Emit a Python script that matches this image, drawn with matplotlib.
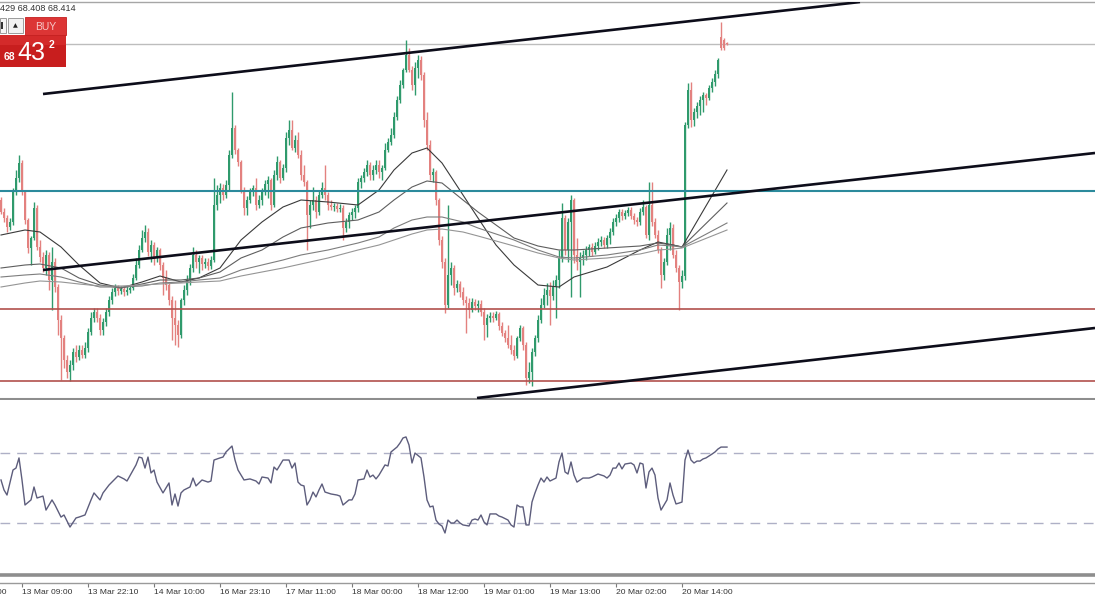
import matplotlib
matplotlib.use('Agg')
import matplotlib.pyplot as plt
from matplotlib.patches import Rectangle
import numpy as np

# ---------------- data ----------------
opens = [66.86, 66.74, 66.68, 66.59, 66.64, 66.94, 67.08, 67.23, 66.94, 66.66,
         66.38, 66.48, 66.78, 66.39, 66.29, 66.18, 66.31, 66.06, 66.24, 65.99,
         65.66, 65.48, 65.26, 65.14, 65.21, 65.34, 65.29, 65.36, 65.31, 65.38,
         65.54, 65.68, 65.74, 65.68, 65.56, 65.64, 65.74, 65.86, 65.94, 65.98,
         65.95, 65.97, 65.94, 65.96, 65.98, 66.08, 66.21, 66.36, 66.48, 66.54,
         66.34, 66.41, 66.28, 66.36, 66.21, 66.08, 66.01, 65.86, 65.68, 65.61,
         65.51, 65.86, 65.96, 66.06, 66.18, 66.31, 66.24, 66.28, 66.22, 66.24,
         66.20, 66.26, 66.81, 66.91, 66.98, 66.91, 67.01, 67.31, 67.58, 67.36,
         67.24, 66.96, 66.78, 66.86, 66.95, 66.98, 66.81, 66.86, 66.94, 67.02,
         67.06, 66.81, 67.11, 67.24, 67.08, 67.18, 67.48, 67.56, 67.38, 67.46,
         67.31, 67.11, 67.04, 66.71, 66.81, 66.86, 66.74, 66.91, 66.98, 66.91,
         66.81, 66.79, 66.80, 66.77, 66.78, 66.58, 66.64, 66.71, 66.74, 66.78,
         67.04, 67.08, 67.14, 67.21, 67.11, 67.16, 67.21, 67.14, 67.18, 67.36,
         67.44, 67.51, 67.69, 67.86, 68.01, 68.16, 68.31, 68.16, 68.01, 68.18,
         68.26, 68.11, 67.66, 67.41, 67.11, 67.14, 66.86, 66.46, 66.24, 65.81,
         66.11, 66.18, 65.98, 66.02, 65.94, 65.86, 65.83, 65.76, 65.84, 65.80,
         65.82, 65.74, 65.61, 65.68, 65.70, 65.68, 65.72, 65.60, 65.53, 65.48,
         65.41, 65.36, 65.30, 65.48, 65.58, 65.41, 65.08, 65.14, 65.34, 65.48,
         65.66, 65.81, 65.91, 65.96, 65.90, 65.99, 66.06, 66.28, 66.68, 66.36,
         66.64, 66.86, 66.31, 66.24, 66.28, 66.31, 66.36, 66.39, 66.34, 66.40,
         66.44, 66.46, 66.41, 66.48, 66.54, 66.64, 66.68, 66.74, 66.70, 66.73,
         66.76, 66.70, 66.66, 66.64, 66.74, 66.79, 66.51, 66.81, 66.64, 66.51,
         66.36, 66.11, 66.24, 66.51, 66.58, 66.31, 66.18, 66.04, 66.10, 67.61,
         67.96, 67.66, 67.74, 67.80, 67.86, 67.91, 67.88, 67.98, 68.04, 68.12,
         68.49, 68.46, 68.43]

closes = [66.74, 66.68, 66.59, 66.64, 66.94, 67.08, 67.23, 66.94, 66.66, 66.38,
          66.48, 66.78, 66.39, 66.29, 66.18, 66.31, 66.06, 66.24, 65.99, 65.66,
          65.48, 65.26, 65.14, 65.21, 65.34, 65.29, 65.36, 65.31, 65.38, 65.54,
          65.68, 65.74, 65.68, 65.56, 65.64, 65.74, 65.86, 65.94, 65.98, 65.95,
          65.97, 65.94, 65.96, 65.98, 66.08, 66.21, 66.36, 66.48, 66.54, 66.34,
          66.41, 66.28, 66.36, 66.21, 66.08, 66.01, 65.86, 65.68, 65.61, 65.51,
          65.86, 65.96, 66.06, 66.18, 66.31, 66.24, 66.28, 66.22, 66.24, 66.20,
          66.26, 66.81, 66.91, 66.98, 66.91, 67.01, 67.31, 67.58, 67.36, 67.24,
          66.96, 66.78, 66.86, 66.95, 66.98, 66.81, 66.86, 66.94, 67.02, 67.06,
          66.81, 67.11, 67.24, 67.08, 67.18, 67.48, 67.56, 67.38, 67.46, 67.31,
          67.11, 67.04, 66.71, 66.81, 66.86, 66.74, 66.91, 66.98, 66.91, 66.81,
          66.79, 66.80, 66.77, 66.78, 66.58, 66.64, 66.71, 66.74, 66.78, 67.04,
          67.08, 67.14, 67.21, 67.11, 67.16, 67.21, 67.14, 67.18, 67.36, 67.44,
          67.51, 67.69, 67.86, 68.01, 68.16, 68.31, 68.16, 68.01, 68.18, 68.26,
          68.11, 67.66, 67.41, 67.11, 67.14, 66.86, 66.46, 66.24, 65.81, 66.11,
          66.18, 65.98, 66.02, 65.94, 65.86, 65.83, 65.76, 65.84, 65.80, 65.82,
          65.74, 65.61, 65.68, 65.70, 65.68, 65.72, 65.60, 65.53, 65.48, 65.41,
          65.36, 65.30, 65.48, 65.58, 65.41, 65.08, 65.14, 65.34, 65.48, 65.66,
          65.81, 65.91, 65.96, 65.90, 65.99, 66.06, 66.28, 66.68, 66.36, 66.64,
          66.86, 66.31, 66.24, 66.28, 66.31, 66.36, 66.39, 66.34, 66.40, 66.44,
          66.46, 66.41, 66.48, 66.54, 66.64, 66.68, 66.74, 66.70, 66.73, 66.76,
          66.70, 66.66, 66.64, 66.74, 66.79, 66.51, 66.81, 66.64, 66.51, 66.36,
          66.11, 66.24, 66.51, 66.58, 66.31, 66.18, 66.04, 66.10, 67.61, 67.96,
          67.66, 67.74, 67.80, 67.86, 67.91, 67.88, 67.98, 68.04, 68.12, 68.26,
          68.38, 68.38, 68.42]

highs = [66.89, 66.78, 66.71, 66.68, 66.98, 67.16, 67.31, 67.26, 66.96, 66.68,
         66.50, 66.84, 66.81, 66.46, 66.34, 66.36, 66.34, 66.39, 66.28, 66.02,
         65.71, 65.51, 65.31, 65.26, 65.38, 65.41, 65.41, 65.41, 65.44, 65.58,
         65.74, 65.78, 65.78, 65.72, 65.68, 65.78, 65.90, 65.98, 66.02, 66.01,
         66.00, 65.99, 66.00, 66.01, 66.12, 66.28, 66.41, 66.56, 66.61, 66.58,
         66.46, 66.44, 66.39, 66.38, 66.24, 66.16, 66.04, 65.90, 65.86, 65.66,
         65.88, 66.01, 66.11, 66.22, 66.39, 66.36, 66.31, 66.31, 66.28, 66.28,
         66.30, 67.08, 67.01, 67.03, 67.02, 67.06, 67.36, 67.94, 67.61, 67.38,
         67.26, 66.99, 66.90, 66.98, 67.01, 67.08, 66.91, 66.98, 67.06, 67.10,
         67.08, 67.16, 67.30, 67.26, 67.22, 67.54, 67.66, 67.66, 67.51, 67.54,
         67.36, 67.21, 67.06, 66.86, 66.99, 66.90, 66.96, 67.04, 67.21, 66.94,
         66.86, 66.83, 66.83, 66.82, 66.81, 66.68, 66.74, 66.78, 66.81, 67.08,
         67.11, 67.18, 67.26, 67.24, 67.21, 67.26, 67.26, 67.21, 67.43, 67.48,
         67.58, 67.74, 67.90, 68.06, 68.18, 68.46, 68.38, 68.20, 68.24, 68.31,
         68.30, 68.14, 67.74, 67.46, 67.18, 67.16, 66.88, 66.50, 66.28, 66.81,
         66.24, 66.21, 66.06, 66.05, 65.99, 65.90, 65.88, 65.88, 65.87, 65.86,
         65.86, 65.78, 65.72, 65.74, 65.74, 65.75, 65.74, 65.64, 65.56, 65.61,
         65.51, 65.41, 65.50, 65.61, 65.60, 65.44, 65.24, 65.38, 65.51, 65.71,
         65.88, 65.98, 66.03, 66.04, 66.06, 66.11, 66.36, 66.83, 66.71, 66.68,
         66.91, 66.88, 66.48, 66.34, 66.36, 66.40, 66.42, 66.43, 66.44, 66.48,
         66.50, 66.49, 66.51, 66.58, 66.68, 66.72, 66.77, 66.77, 66.76, 66.79,
         66.79, 66.73, 66.69, 66.78, 66.86, 66.81, 67.04, 67.04, 66.68, 66.56,
         66.39, 66.28, 66.58, 66.64, 66.62, 66.36, 66.21, 66.16, 67.64, 68.03,
         68.04, 67.78, 67.84, 67.90, 67.94, 67.93, 68.01, 68.08, 68.16, 68.28,
         68.64, 68.48, 68.44]

lows = [66.72, 66.64, 66.54, 66.56, 66.61, 66.91, 67.04, 66.91, 66.62, 66.33,
        66.21, 66.46, 66.36, 66.24, 66.14, 66.11, 65.96, 65.76, 65.94, 65.51,
        65.06, 65.18, 65.08, 65.05, 65.16, 65.24, 65.26, 65.28, 65.28, 65.34,
        65.51, 65.64, 65.64, 65.51, 65.51, 65.60, 65.70, 65.82, 65.90, 65.91,
        65.92, 65.90, 65.91, 65.93, 65.96, 66.06, 66.18, 66.34, 66.44, 66.30,
        66.24, 66.21, 66.24, 66.16, 65.91, 65.96, 65.81, 65.46, 65.41, 65.39,
        65.48, 65.81, 65.91, 66.01, 66.14, 66.18, 66.13, 66.16, 66.18, 66.16,
        66.17, 66.24, 66.76, 66.83, 66.86, 66.88, 66.96, 67.28, 67.32, 67.20,
        66.93, 66.71, 66.71, 66.83, 66.90, 66.76, 66.78, 66.81, 66.91, 66.88,
        66.76, 66.79, 67.06, 67.03, 67.06, 67.14, 67.41, 67.36, 67.34, 67.28,
        67.06, 67.00, 66.36, 66.58, 66.76, 66.68, 66.71, 66.88, 66.86, 66.76,
        66.76, 66.75, 66.74, 66.74, 66.46, 66.54, 66.58, 66.66, 66.68, 66.74,
        66.98, 67.04, 67.10, 67.06, 67.06, 67.12, 67.08, 67.06, 67.16, 67.34,
        67.41, 67.48, 67.66, 67.83, 67.98, 68.14, 68.14, 67.96, 67.91, 68.08,
        68.06, 67.59, 67.36, 67.06, 67.04, 66.81, 66.41, 66.18, 65.73, 65.78,
        66.01, 65.91, 65.94, 65.89, 65.81, 65.53, 65.68, 65.74, 65.76, 65.74,
        65.70, 65.46, 65.49, 65.64, 65.64, 65.66, 65.56, 65.50, 65.44, 65.38,
        65.32, 65.26, 65.28, 65.45, 65.36, 65.01, 65.03, 65.00, 65.30, 65.44,
        65.63, 65.78, 65.81, 65.61, 65.86, 65.68, 65.98, 66.24, 66.31, 66.24,
        65.89, 66.23, 66.16, 65.89, 66.21, 66.26, 66.30, 66.30, 66.32, 66.36,
        66.40, 66.38, 66.38, 66.42, 66.51, 66.60, 66.64, 66.66, 66.67, 66.70,
        66.67, 66.62, 66.60, 66.61, 66.71, 66.48, 66.46, 66.60, 66.48, 66.33,
        65.98, 66.06, 66.21, 66.36, 66.28, 66.14, 65.76, 65.98, 66.06, 67.58,
        67.59, 67.60, 67.68, 67.71, 67.74, 67.81, 67.86, 67.94, 68.00, 68.08,
        68.36, 68.36, 68.41]

# moving averages (sampled at these bar numbers)
ma_bars = [0, 8, 13, 20, 26, 33, 40, 47, 53, 60, 66, 73, 80, 87, 94, 100, 109, 119,
           126, 131, 137, 142, 147, 154, 159, 165, 171, 179, 186, 191, 202, 213, 219,
           224, 227, 242]
ma_fast = [66.51, 66.56, 66.54, 66.39, 66.21, 66.03, 65.98, 66.04, 66.10, 66.04, 66.08,
           66.18, 66.46, 66.64, 66.79, 66.86, 66.84, 66.81, 66.96, 67.16, 67.33, 67.38,
           67.23, 66.91, 66.68, 66.41, 66.21, 66.01, 65.99, 66.09, 66.19, 66.36, 66.44,
           66.41, 66.39, 67.16]
ma_mid1 = [66.18, 66.21, 66.22, 66.18, 66.08, 66.01, 65.98, 66.02, 66.06, 66.06, 66.08,
           66.14, 66.28, 66.36, 66.49, 66.58, 66.63, 66.66, 66.74, 66.86, 66.99, 67.05,
           67.03, 66.86, 66.74, 66.61, 66.48, 66.40, 66.36, 66.36, 66.38, 66.40, 66.43,
           66.41, 66.39, 66.83]
ma_mid2 = [66.09, 66.11, 66.12, 66.09, 66.04, 65.99, 65.99, 66.00, 66.03, 66.04, 66.06,
           66.08, 66.16, 66.21, 66.26, 66.31, 66.36, 66.43, 66.49, 66.58, 66.66, 66.69,
           66.69, 66.64, 66.58, 66.52, 66.46, 66.36, 66.29, 66.28, 66.31, 66.36, 66.41,
           66.40, 66.39, 66.63]
ma_slow = [65.99, 66.03, 66.05, 66.04, 66.02, 66.00, 66.00, 66.01, 66.02, 66.03, 66.04,
           66.05, 66.10, 66.14, 66.18, 66.22, 66.28, 66.36, 66.41, 66.46, 66.52, 66.56,
           66.57, 66.54, 66.50, 66.45, 66.40, 66.33, 66.28, 66.26, 66.28, 66.32, 66.36,
           66.37, 66.38, 66.56]

# RSI (sampled at these bar numbers)
rsi_bars = [0, 1, 2, 4, 5, 6, 7, 8, 10, 11, 12, 14, 15, 17, 18, 20, 21, 23, 25, 26, 28,
            30, 31, 33, 34, 36, 39, 41, 42, 45, 46, 47, 48, 49, 50, 51, 52, 54, 56, 57,
            58, 59, 60, 61, 63, 64, 65, 67, 69, 70, 71, 73, 74, 75, 77, 78, 79, 81, 83,
            85, 86, 87, 89, 90, 91, 92, 94, 96, 97, 98, 99, 100, 101, 102, 103, 104, 105,
            106, 107, 108, 110, 112, 113, 114, 116, 117, 118, 119, 121, 122, 123, 124,
            125, 126, 128, 129, 130, 132, 133, 134, 135, 136, 137, 138, 140, 141, 142,
            143, 144, 145, 146, 147, 148, 149, 150, 151, 152, 153, 154, 156, 157, 158,
            159, 160, 161, 162, 163, 165, 166, 167, 169, 170, 171, 172, 173, 174, 175,
            176, 177, 178, 179, 180, 181, 182, 183, 185, 186, 187, 188, 189, 190, 191,
            192, 194, 196, 197, 199, 201, 202, 203, 204, 205, 206, 207, 208, 210, 211,
            212, 213, 214, 215, 216, 217, 218, 219, 220, 222, 223, 224, 225, 226, 227,
            228, 229, 230, 231, 232, 233, 234, 235, 236, 237, 238, 239, 240, 241, 242]
rsi_vals = [54.3, 48.6, 45.7, 60.0, 61.1, 66.9, 54.3, 40.0, 42.9, 50.3, 44.0, 45.1, 37.1,
            42.9, 40.0, 33.1, 34.3, 27.4, 32.6, 33.1, 34.3, 42.9, 46.9, 42.9, 46.9, 51.4,
            56.6, 54.9, 53.7, 62.9, 67.4, 66.9, 61.1, 67.4, 58.3, 60.0, 53.1, 46.9, 52.6,
            40.0, 46.3, 39.4, 46.9, 48.6, 50.3, 55.4, 50.9, 54.3, 53.1, 53.7, 65.7, 66.9,
            67.4, 70.3, 73.7, 65.7, 60.0, 54.3, 54.9, 53.7, 52.0, 56.0, 55.4, 52.6, 61.7,
            60.0, 65.7, 65.7, 61.1, 64.0, 53.1, 51.4, 50.9, 40.0, 42.9, 47.4, 44.6, 48.6,
            52.0, 47.4, 46.3, 45.7, 45.1, 40.0, 42.9, 42.9, 46.3, 54.3, 54.9, 60.0, 56.0,
            57.1, 54.9, 57.1, 62.9, 62.3, 70.3, 73.1, 75.4, 78.3, 78.9, 74.3, 64.0, 69.7,
            66.9, 56.0, 42.9, 38.9, 39.4, 31.4, 29.1, 28.0, 24.0, 31.4, 29.7, 29.7, 31.4,
            29.7, 28.6, 28.0, 31.4, 32.0, 31.4, 34.3, 30.3, 28.6, 34.9, 34.9, 33.7, 33.1,
            31.4, 28.6, 27.4, 40.0, 38.9, 38.9, 28.6, 28.6, 41.7, 46.9, 51.4, 55.4, 53.1,
            56.0, 53.7, 55.4, 64.6, 69.7, 58.9, 57.7, 64.6, 57.1, 53.1, 55.4, 55.4, 56.0,
            57.7, 56.6, 55.4, 57.1, 61.1, 61.1, 64.0, 60.6, 63.4, 64.0, 62.9, 58.3, 64.0,
            63.4, 49.7, 58.9, 61.1, 57.1, 44.0, 37.1, 42.9, 52.6, 45.7, 40.6, 41.1, 41.7,
            65.7, 71.4, 65.7, 64.0, 65.1, 65.1, 66.3, 66.9, 68.0, 69.1, 70.3, 72.0, 73.1,
            73.1, 73.1]
rsi_levels = [70, 30]

# drawn objects
bid_price = 68.42
resistance_teal = 66.95
support_levels = [65.77, 65.05]
trend_upper = ([14, 286.33], [67.92, 68.84])
trend_mid = ([14, 364.67], [66.16, 67.33])
trend_lower = ([158.67, 364.67], [64.88, 65.58])

tick_bars = [7, 29, 51, 73, 95, 117, 139, 161, 183, 205, 227]
tick_labels = ['13 Mar 09:00', '13 Mar 22:10', '14 Mar 10:00',
               '16 Mar 23:10', '17 Mar 11:00', '18 Mar 00:00', '18 Mar 12:00',
               '19 Mar 01:00', '19 Mar 13:00', '20 Mar 02:00', '20 Mar 14:00']
cut_tick_bar = -15
cut_tick_label = '12 Mar 20:00'

header_text = '429 68.408 68.414'

# ---------------- figure ----------------
W, H = 1095, 600
fig = plt.figure(figsize=(W / 100, H / 100), dpi=100)
fig.patch.set_facecolor('white')

XL = (-1 / 3, 364.667)

ax = fig.add_axes([0, (H - 399) / H, 1, 397 / H])
rax = fig.add_axes([0, (H - 575) / H, 1, 175 / H])
tax = fig.add_axes([0, (H - 583) / H, 1, 0.0001])

# main price panel
ax.set_xlim(*XL)
ax.set_ylim(64.87, 68.84)
ax.set_xticks([])
ax.set_yticks([])
for s in ['left', 'right']:
    ax.spines[s].set_visible(False)
ax.spines['top'].set_color('#a6a6a6')
ax.spines['top'].set_linewidth(1.0)
ax.spines['bottom'].set_color('#8e8e8e')
ax.spines['bottom'].set_linewidth(2.2)

o = np.array(opens); c = np.array(closes)
h = np.array(highs); l = np.array(lows)
idx = np.arange(len(o))
up = c >= o
GREEN = '#2f9a6c'
RED = '#e3817f'
cols = np.where(up, GREEN, RED)
ax.vlines(idx, l, h, colors=cols, lw=1.0, zorder=2)
body_bot = np.minimum(o, c)
body_h = np.maximum(np.abs(c - o), 0.008)
ax.bar(idx, body_h, bottom=body_bot, width=0.72, color=cols, linewidth=0, zorder=3)

ma_cols = ['#3a3a3a', '#5e5e5e', '#7d7d7d', '#959595']
for series, col in zip([ma_fast, ma_mid1, ma_mid2, ma_slow], ma_cols):
    ax.plot(ma_bars, series, color=col, lw=0.8, zorder=4)

ax.axhline(bid_price, color='#bdbdbd', lw=1.0, zorder=1)
ax.axhline(resistance_teal, color='#2b8a9c', lw=1.5, zorder=5)
for lv in support_levels:
    ax.axhline(lv, color='#b2504d', lw=1.2, zorder=5)

for tx, ty in [trend_upper, trend_mid, trend_lower]:
    ax.plot(tx, ty, color='#0d0d1a', lw=1.9, zorder=6, solid_capstyle='butt')

# RSI panel
rax.set_xlim(*XL)
rax.set_ylim(0, 100)
rax.set_xticks([])
rax.set_yticks([])
for s in ['left', 'right', 'top']:
    rax.spines[s].set_visible(False)
rax.spines['bottom'].set_color('#8e8e8e')
rax.spines['bottom'].set_linewidth(2.6)
for lv in rsi_levels:
    rax.axhline(lv, color='#aeb0c6', lw=1.0, dashes=(7, 5))
rax.plot(rsi_bars, rsi_vals, color='#5d5d7c', lw=1.0)

# time axis
LABEL_FONT = dict(family='Liberation Sans', size=6.1, color='#333333')
tax.set_yticks([])
for s in ['left', 'right', 'top']:
    tax.spines[s].set_visible(False)
tax.spines['bottom'].set_color('#9a9a9a')
tax.spines['bottom'].set_linewidth(1.0)
tax.set_xticks(tick_bars)
tax.set_xticklabels(tick_labels, fontfamily=LABEL_FONT['family'],
                    fontsize=LABEL_FONT['size'], color=LABEL_FONT['color'])
tax.set_xlim(*XL)
tax.tick_params(axis='x', direction='out', length=3, width=0.8, color='#7a7a7a', pad=1.5)
for lab in tax.get_xticklabels():
    lab.set_horizontalalignment('left')
# label of the tick that lies just left of the visible window (only its end shows)
tax.annotate(cut_tick_label, xy=(cut_tick_bar, 0), xycoords=('data', 'axes fraction'),
             xytext=(0, -4.5), textcoords='offset points', ha='left', va='top',
             fontfamily=LABEL_FONT['family'], fontsize=LABEL_FONT['size'],
             color=LABEL_FONT['color'], annotation_clip=False)

# overlay: one-click trading widget and header text
oax = fig.add_axes([0, 0, 1, 1], zorder=10)
oax.set_xlim(0, W)
oax.set_ylim(H, 0)
oax.axis('off')
oax.patch.set_alpha(0)

oax.text(0, 8.5, header_text, fontsize=6.6, family='Liberation Sans', color='#333333',
         ha='left', va='center')
oax.add_patch(Rectangle((0, 35), 66, 32, facecolor='#c81e1e', edgecolor='none'))
oax.add_patch(Rectangle((0, 35), 66, 10, facecolor='#d42a2a', edgecolor='none'))
oax.add_patch(Rectangle((25, 17), 41, 18, facecolor='#dc3535', edgecolor='#c42020', lw=0.6))
oax.text(45.5, 26.5, 'BUY', fontsize=7.5, family='Liberation Sans', color='#f7c9c9',
         ha='center', va='center')
oax.add_patch(Rectangle((0, 18), 6, 15, facecolor='#f6f6f6', edgecolor='#9c9c9c', lw=0.7))
oax.add_patch(Rectangle((1, 22), 2, 7, facecolor='#333333', edgecolor='none'))
oax.add_patch(Rectangle((8, 18), 15, 15, facecolor='#f2f2f2', edgecolor='#9c9c9c', lw=0.7))
oax.text(15.5, 25.5, '\u25b2', fontsize=4.5, color='#222222', ha='center', va='center')
oax.text(9, 57, '68', fontsize=7.5, family='Liberation Sans', color='white',
         ha='center', va='center', fontweight='bold')
oax.text(31.5, 52.5, '43', fontsize=18, family='Liberation Sans', color='white',
         ha='center', va='center')
oax.text(51.5, 44.5, '2', fontsize=7.5, family='Liberation Sans', color='white',
         ha='center', va='center', fontweight='bold')

fig.savefig('out.png', dpi=100, facecolor='white')
